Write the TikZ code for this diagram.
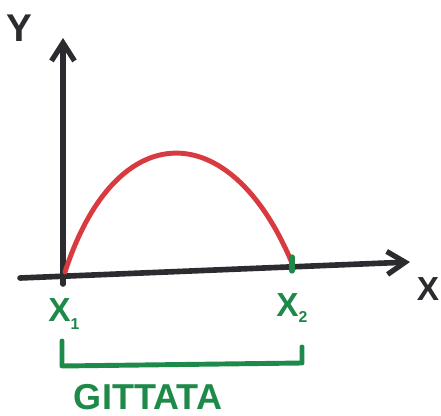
\documentclass[tikz,border=0pt]{standalone}
\usepackage{fontspec}
\setmainfont{Liberation Sans}
\usetikzlibrary{arrows.meta}
\definecolor{inkblack}{HTML}{2B2B30}
\definecolor{inkred}{HTML}{D93A40}
\definecolor{inkgreen}{HTML}{1E8A4A}

\begin{document}
\begin{tikzpicture}[x=0.02cm, y=-0.02cm, line cap=round, line join=round,
    every node/.style={font=\bfseries\fontsize{19}{22}\selectfont},
    axis/.style={draw=inkblack, line width=3.2pt, -{Straight Barb[length=3.6mm, width=4.6mm, line width=3pt]}}]
    \useasboundingbox (0,0) rectangle (441,416);

    % Axes
    \coordinate (O) at (63,273);
    \coordinate (ybot) at (63,284);
    \coordinate (ytop) at (63,38);
    \coordinate (xleft) at (20,278);
    \coordinate (xright) at (410,262);
    \draw[axis] (ybot) -- (ytop);
    \draw[axis] (xleft) -- (xright);
    \node[text=inkblack, font=\bfseries\fontsize{22}{24}\selectfont] (ylab) at (19,28) {Y};
    \node[text=inkblack] (xlab) at (428,289) {X};

    % Trajectory
    \coordinate (x1) at (65,272);
    \coordinate (x2) at (292,263);
    \draw[inkred, line width=2.8pt] (x1) .. controls (116,115) and (230,115) .. (x2);
    \draw[inkgreen, line width=3pt] (292,257) -- (292,271);

    % Range
    \node[text=inkgreen] (x1lab) at (64,314) {X\raisebox{-0.45ex}{\small 1}};
    \node[text=inkgreen] (x2lab) at (292,308) {X\raisebox{-0.3ex}{\small 2}};
    \coordinate (bl) at (62,341);
    \coordinate (br) at (302,347);
    \draw[inkgreen, line width=2.8pt] (bl) -- (62,366) -- (302,363) -- (br);
    \node[text=inkgreen, font=\bfseries\fontsize{20.5}{24}\selectfont] (range) at (148,397) {GITTATA};
\end{tikzpicture}
\end{document}
